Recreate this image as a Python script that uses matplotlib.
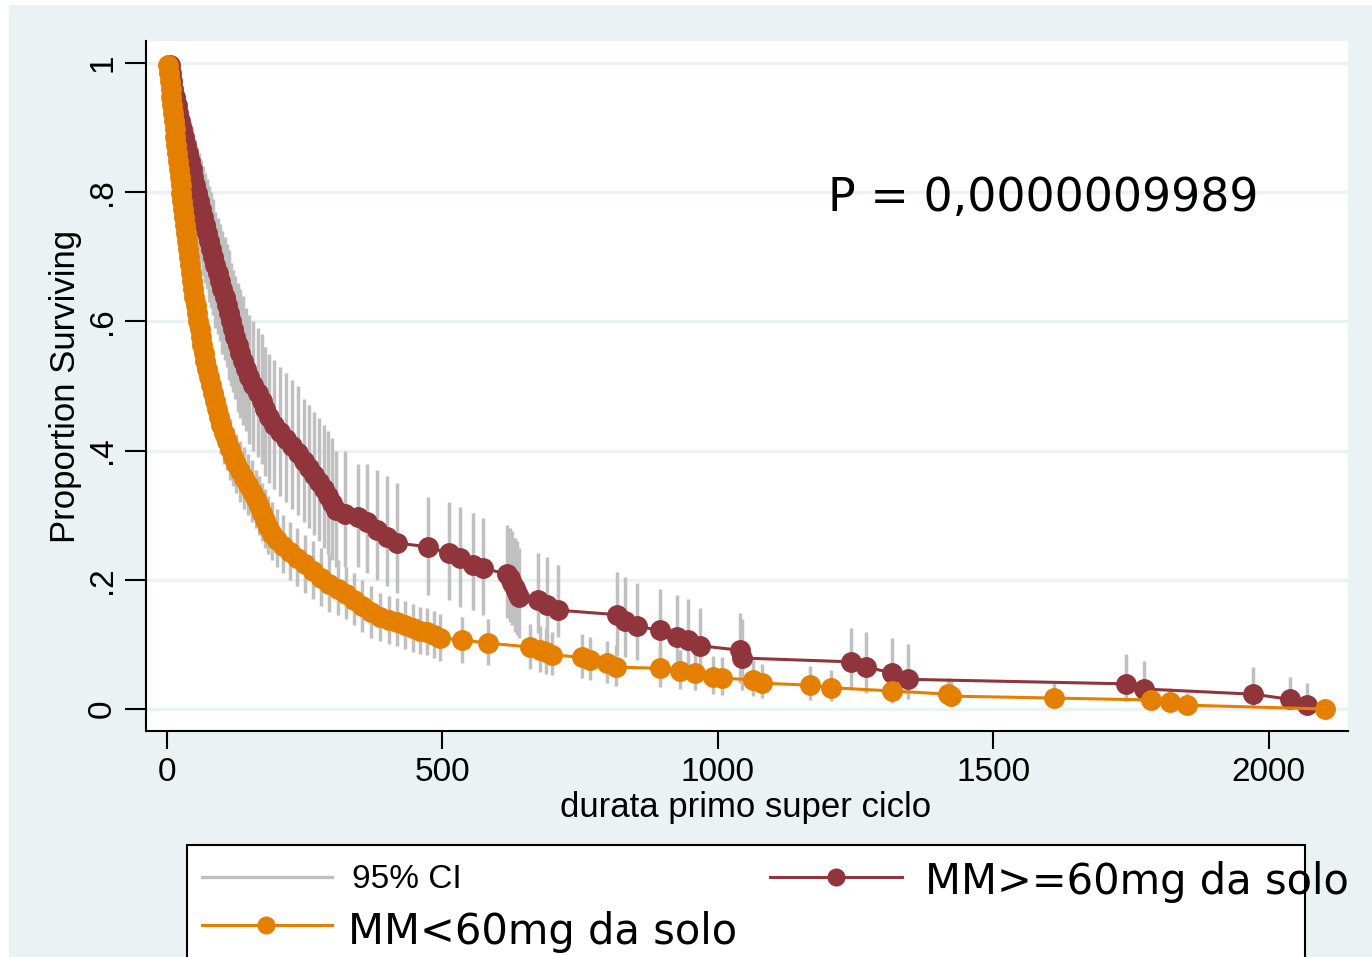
import matplotlib
matplotlib.use("Agg")
import matplotlib.pyplot as plt
from matplotlib.patches import Rectangle
from matplotlib.lines import Line2D

# MM>=60mg da solo : tempi, sopravvivenza, IC 95%
t_hi = [5, 7, 9, 11, 15, 18, 20, 24, 27, 31, 35, 38, 42, 45, 47, 51, 54, 58, 62, 65,
        69, 73, 76, 80, 84, 87, 93, 96, 100, 105, 109, 113, 116, 120, 124, 129, 133, 138, 143, 149,
        156, 165, 173, 178, 185, 194, 205, 216, 227, 238, 249, 258, 267, 276, 285, 292, 300, 307,
        323, 347, 363, 381, 399, 418, 474, 512, 532, 556, 574, 617, 623, 626, 632, 635, 639, 674,
        690, 710, 817, 832, 853, 895, 926, 946, 968, 1040, 1044, 1242, 1269, 1316, 1345, 1741,
        1774, 1972, 2039, 2070]
s_hi = [0.997, 0.985, 0.972, 0.960, 0.947, 0.935, 0.923, 0.910, 0.898, 0.885, 0.873, 0.861,
        0.848, 0.836, 0.824, 0.811, 0.799, 0.786, 0.774, 0.762, 0.749, 0.737, 0.724, 0.712,
        0.700, 0.687, 0.675, 0.663, 0.650, 0.638, 0.625, 0.613, 0.601, 0.588, 0.576, 0.563,
        0.551, 0.539, 0.526, 0.514, 0.502, 0.489, 0.477, 0.464, 0.452, 0.440, 0.429, 0.418,
        0.407, 0.396, 0.384, 0.373, 0.362, 0.351, 0.341, 0.330, 0.319, 0.308,
        0.302, 0.297, 0.289, 0.277, 0.266, 0.257, 0.251, 0.241, 0.234, 0.223, 0.218, 0.209,
        0.203, 0.195, 0.187, 0.180, 0.173, 0.169, 0.161, 0.153, 0.146, 0.136, 0.128, 0.122,
        0.111, 0.107, 0.098, 0.091, 0.079, 0.073, 0.065, 0.056, 0.046, 0.039, 0.031, 0.023,
        0.015, 0.006]
lo_hi = [0.98, 0.95, 0.93, 0.91, 0.89, 0.87, 0.86, 0.84, 0.83, 0.81, 0.80, 0.78, 0.77, 0.75,
         0.74, 0.73, 0.71, 0.70, 0.69, 0.67, 0.66, 0.65, 0.63, 0.62, 0.61, 0.59, 0.58, 0.57,
         0.55, 0.54, 0.53, 0.51, 0.50, 0.49, 0.48, 0.46, 0.45, 0.44, 0.43, 0.41, 0.40, 0.39,
         0.38, 0.36, 0.35, 0.34, 0.33, 0.32, 0.31, 0.30, 0.29, 0.28, 0.27, 0.26, 0.25, 0.24,
         0.23, 0.22,
         0.22, 0.22, 0.21, 0.20, 0.19, 0.18, 0.176, 0.169, 0.158, 0.153, 0.146, 0.141, 0.135,
         0.13, 0.12, 0.115, 0.11, 0.118, 0.10, 0.111, 0.084, 0.08, 0.076, 0.045, 0.045, 0.05,
         0.056, 0.04, 0.03, 0.03, 0.025, 0.02, 0.015, 0.012, 0.008, 0.005, 0.003, 0.0]
up_hi = [1.0, 1.0, 0.99, 0.99, 0.98, 0.97, 0.96, 0.95, 0.95, 0.94, 0.93, 0.92, 0.91, 0.90,
         0.89, 0.88, 0.87, 0.86, 0.85, 0.84, 0.83, 0.82, 0.81, 0.80, 0.79, 0.77, 0.76, 0.75,
         0.74, 0.73, 0.72, 0.71, 0.69, 0.68, 0.67, 0.66, 0.65, 0.64, 0.62, 0.61, 0.60, 0.59,
         0.58, 0.56, 0.55, 0.54, 0.53, 0.52, 0.51, 0.50, 0.48, 0.47, 0.46, 0.45, 0.44, 0.43,
         0.42, 0.40,
         0.40, 0.38, 0.38, 0.37, 0.36, 0.35, 0.328, 0.32, 0.313, 0.303, 0.296, 0.285, 0.28,
         0.275, 0.265, 0.26, 0.25, 0.241, 0.235, 0.223, 0.212, 0.204, 0.195, 0.186, 0.176,
         0.17, 0.156, 0.149, 0.14, 0.125, 0.12, 0.11, 0.10, 0.085, 0.075, 0.065, 0.05, 0.04]

# MM<60mg da solo
t_lo = [2, 4, 5, 7, 8, 10, 11, 13, 14, 15, 16, 18, 20, 22, 24, 25, 26, 27, 29, 31,
        33, 35, 36, 38, 40, 42, 44, 45, 47, 49, 53, 54, 56, 60, 62, 64, 67, 69, 73, 76,
        80, 83, 87, 91, 94, 98,
        104, 109, 114, 120, 125, 133, 140, 147, 154, 162, 167, 173, 178, 183, 191, 200, 211,
        223, 236, 251, 265, 280, 294, 311, 325, 340, 354, 370, 387, 403, 418, 432, 447, 459,
        472, 485, 496, 536, 583, 659, 677, 688, 699, 753, 768, 799, 815, 895, 931, 959, 991,
        1008, 1064, 1080, 1167, 1206, 1316, 1418, 1423, 1610, 1787, 1821, 1852, 2102]
s_lo = [0.997, 0.985, 0.972, 0.960, 0.947, 0.935, 0.923, 0.910, 0.898, 0.885, 0.873, 0.861,
        0.848, 0.836, 0.824, 0.811, 0.799, 0.786, 0.774, 0.762, 0.749, 0.737, 0.724, 0.712,
        0.700, 0.687, 0.675, 0.663, 0.650, 0.638, 0.625, 0.613, 0.601, 0.588, 0.576, 0.563,
        0.551, 0.539, 0.526, 0.514, 0.502, 0.489, 0.477, 0.464, 0.452, 0.440,
        0.427, 0.415, 0.402, 0.390, 0.379, 0.368, 0.358, 0.347, 0.336, 0.325, 0.314, 0.303,
        0.293, 0.282, 0.271, 0.262, 0.252, 0.243, 0.234, 0.224, 0.214, 0.203, 0.193, 0.186,
        0.178, 0.169, 0.159, 0.150, 0.142, 0.138, 0.135, 0.130, 0.125, 0.121, 0.119, 0.115,
        0.110, 0.107, 0.102, 0.096, 0.091, 0.088, 0.084, 0.080, 0.076, 0.071, 0.065, 0.063,
        0.059, 0.056, 0.050, 0.048, 0.045, 0.040, 0.037, 0.033, 0.028, 0.023, 0.020, 0.017,
        0.014, 0.011, 0.006, 0.0]
lo_lo = [0.99, 0.97, 0.95, 0.93, 0.92, 0.90, 0.89, 0.87, 0.86, 0.845, 0.83, 0.82, 0.80, 0.79,
         0.78, 0.765, 0.75, 0.74, 0.725, 0.715, 0.70, 0.69, 0.675, 0.665, 0.65, 0.64, 0.625,
         0.615, 0.60, 0.59, 0.575, 0.565, 0.55, 0.54, 0.525, 0.515, 0.50, 0.49, 0.475, 0.465,
         0.455, 0.44, 0.43, 0.415, 0.405, 0.395,
         0.38, 0.37, 0.355, 0.345, 0.335, 0.32, 0.31, 0.30, 0.29, 0.28, 0.27, 0.26, 0.25, 0.24,
         0.23, 0.22, 0.21, 0.20, 0.19, 0.18, 0.17, 0.16, 0.15, 0.145, 0.14, 0.13, 0.12, 0.11,
         0.105, 0.10, 0.097, 0.093, 0.088, 0.085, 0.083, 0.079, 0.075, 0.072, 0.068, 0.062,
         0.058, 0.055, 0.052, 0.048, 0.045, 0.041, 0.036, 0.034, 0.031, 0.029, 0.024, 0.022,
         0.02, 0.017, 0.014, 0.012, 0.009, 0.006, 0.005, 0.004, 0.003, 0.002, 0.001, 0.0]
up_lo = [1.0, 0.995, 0.99, 0.985, 0.975, 0.965, 0.955, 0.945, 0.935, 0.925, 0.915, 0.90, 0.89,
         0.88, 0.87, 0.855, 0.845, 0.83, 0.82, 0.81, 0.795, 0.785, 0.77, 0.76, 0.75, 0.735,
         0.725, 0.71, 0.70, 0.69, 0.675, 0.665, 0.65, 0.64, 0.625, 0.615, 0.60, 0.59, 0.575,
         0.565, 0.55, 0.54, 0.525, 0.515, 0.50, 0.49,
         0.475, 0.46, 0.45, 0.435, 0.425, 0.415, 0.405, 0.395, 0.385, 0.37, 0.36, 0.35, 0.34,
         0.33, 0.32, 0.31, 0.30, 0.29, 0.28, 0.27, 0.26, 0.25, 0.24, 0.23, 0.22, 0.21, 0.20,
         0.19, 0.18, 0.175, 0.172, 0.167, 0.162, 0.158, 0.156, 0.152, 0.147, 0.143, 0.139,
         0.132, 0.128, 0.125, 0.12, 0.116, 0.112, 0.106, 0.099, 0.097, 0.092, 0.089, 0.082,
         0.08, 0.076, 0.07, 0.066, 0.06, 0.055, 0.048, 0.044, 0.04, 0.036, 0.032, 0.025, 0.0]

yticks = [0, 0.2, 0.4, 0.6, 0.8, 1.0]
ytick_labels = ["0", ".2", ".4", ".6", ".8", "1"]
xticks = [0, 500, 1000, 1500, 2000]
p_text = "P = 0,0000009989"

BG = "#EAF2F3"
MAROON = "#90353B"
ORANGE = "#E57F00"
GRAY = "#C0C0C0"

W, H = 1372, 957
fig = plt.figure(figsize=(W / 100, H / 100), dpi=100, facecolor="white")


def fx(px):
    return px / W


def fy(py):
    return 1 - py / H


# sfondo esterno stile Stata
fig.patches.append(Rectangle((fx(9), 0), 1 - fx(9), fy(5), transform=fig.transFigure,
                             facecolor=BG, edgecolor="none", zorder=-10))

ax = fig.add_axes([fx(146), fy(731), fx(1348) - fx(146), fy(41) - fy(731)])
ax.set_zorder(1)
ax.set_facecolor("white")
ax.set_xlim(-38, 2144)
ax.set_ylim(-0.034, 1.034)

ax.yaxis.grid(True, color=BG, lw=2.5)
ax.set_axisbelow(True)

# IC 95%
ax.vlines(t_hi, lo_hi, up_hi, color=GRAY, lw=2.5, zorder=2)
ax.vlines(t_lo, lo_lo, up_lo, color=GRAY, lw=2.5, zorder=2)

# curve
ax.plot(t_hi, s_hi, "-o", color=MAROON, lw=2.2, ms=14, mec=MAROON, zorder=3)
ax.plot(t_lo, s_lo, "-o", color=ORANGE, lw=2.2, ms=14, mec=ORANGE, zorder=4)

for side in ["top", "right"]:
    ax.spines[side].set_visible(False)
for side in ["left", "bottom"]:
    ax.spines[side].set_linewidth(1.5)

ax.set_yticks(yticks)
ax.set_yticklabels(ytick_labels, rotation=90, va="center", family="Liberation Sans")
ax.set_xticks(xticks)
ax.set_xticklabels([str(v) for v in xticks], family="Liberation Sans")
ax.tick_params(axis="y", length=15, width=1.5, pad=5, labelsize=24)
ax.tick_params(axis="x", length=13, width=1.5, pad=6, labelsize=24)

fig.text(fx(746), fy(808), "durata primo super ciclo", ha="center", va="center",
         fontsize=25, family="Liberation Sans")
fig.text(fx(66), fy(386), "Proportion Surviving", ha="center", va="center",
         rotation=90, fontsize=25, family="Liberation Sans")
fig.text(fx(828), fy(199), p_text, ha="left", va="center", fontsize=33,
         family="DejaVu Sans", zorder=5)

# legenda
fig.patches.append(Rectangle((fx(187), fy(962)), fx(1305) - fx(187), fy(845) - fy(962),
                             transform=fig.transFigure, facecolor="white",
                             edgecolor="black", lw=1.5, zorder=1))
fig.lines.append(Line2D([fx(202), fx(332)], [fy(877), fy(877)], transform=fig.transFigure,
                        color=GRAY, lw=2.4, zorder=2))
fig.lines.append(Line2D([fx(770), fx(902)], [fy(877), fy(877)], transform=fig.transFigure,
                        color=MAROON, lw=2.2, zorder=2))
fig.lines.append(Line2D([fx(836)], [fy(877)], transform=fig.transFigure, marker="o",
                        ms=12, color=MAROON, zorder=3))
fig.lines.append(Line2D([fx(202), fx(332)], [fy(925), fy(925)], transform=fig.transFigure,
                        color=ORANGE, lw=2.2, zorder=2))
fig.lines.append(Line2D([fx(266)], [fy(925)], transform=fig.transFigure, marker="o",
                        ms=12, color=ORANGE, zorder=3))
fig.text(fx(352), fy(879), "95% CI", ha="left", va="center", fontsize=24,
         family="Liberation Sans", zorder=3)
fig.text(fx(925), fy(882), "MM>=60mg da solo", ha="left", va="center", fontsize=30,
         family="DejaVu Sans", zorder=3)
fig.text(fx(348), fy(932), "MM<60mg da solo", ha="left", va="center", fontsize=30,
         family="DejaVu Sans", zorder=3)

fig.savefig("out.png", dpi=100, facecolor=fig.get_facecolor())
